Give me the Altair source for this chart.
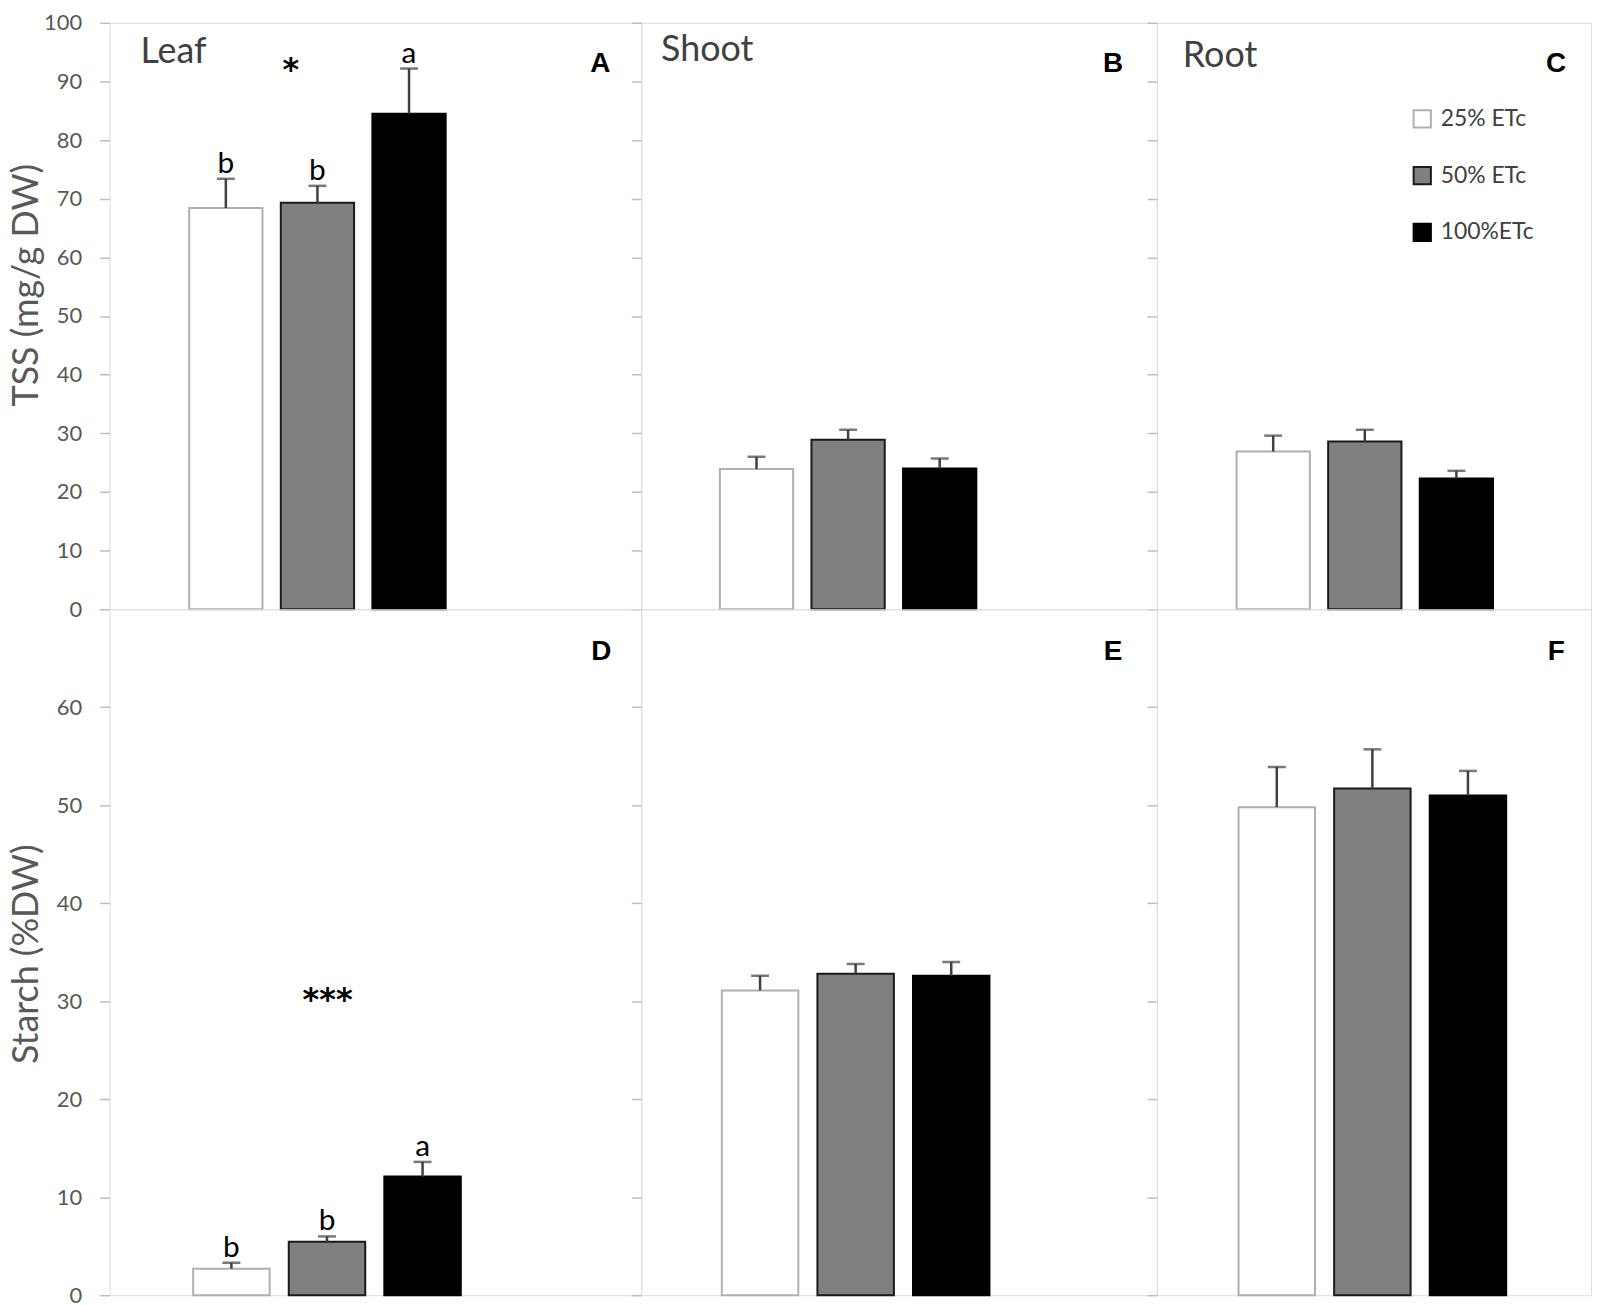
import altair as alt
import pandas as pd

# ---------------- data ----------------
treatments = ["25% ETc", "50% ETc", "100%ETc"]

tss_leaf = [68.4, 69.3, 84.5]
tss_leaf_se = [5.0, 2.9, 7.7]
tss_shoot = [23.9, 28.9, 24.0]
tss_shoot_se = [2.1, 1.7, 1.7]
tss_root = [26.9, 28.6, 22.3]
tss_root_se = [2.7, 2.0, 1.3]

starch_leaf = [2.7, 5.45, 12.1]
starch_leaf_se = [0.6, 0.55, 1.5]
starch_shoot = [31.1, 32.8, 32.6]
starch_shoot_se = [1.5, 1.0, 1.4]
starch_root = [49.8, 51.7, 51.0]
starch_root_se = [4.1, 4.0, 2.5]

tss_leaf_letters = ["b", "b", "a"]
starch_leaf_letters = ["b", "b", "a"]
no_letters = ["", "", ""]

organs = ["Leaf", "Shoot", "Root"]
panel_tags = ["A", "B", "C", "D", "E", "F"]
tss_leaf_anova = "*"
starch_leaf_anova = "***"

tss_ticks = [0, 10, 20, 30, 40, 50, 60, 70, 80, 90, 100]
starch_ticks = [0, 10, 20, 30, 40, 50, 60]
tss_title = "TSS (mg/g DW)"
starch_title = "Starch (%DW)"

# ---------------- styling ----------------
FONT = "Lato"
TAG_FONT = "Liberation Sans"
STAR_FONT = "DejaVu Sans"
GRID = "#bfbfbf"
TXT = "#595959"
ERR = "#404040"
fill_range = ["#ffffff", "#808080", "#000000"]
stroke_range = ["#b0b0b0", "#1a1a1a", "#000000"]

widths = [534, 518, 436]
top_h = 589
bot_h = 689

legend = alt.Legend(
    orient="none", legendX=1307, legendY=85, title=None,
    symbolType="square", symbolSize=300, symbolStrokeWidth=2,
    labelFont=FONT, labelFontSize=23, labelColor="#404040",
    rowPadding=30, labelOffset=7, padding=0,
)
fill_enc = alt.Fill("treatment:N", scale=alt.Scale(domain=treatments, range=fill_range), legend=legend)
stroke_enc = alt.Stroke("treatment:N", scale=alt.Scale(domain=treatments, range=stroke_range), legend=legend)


def text_layer(txt, x, y, size, color, weight="normal", font=FONT, align="left"):
    return alt.Chart(pd.DataFrame({"t": [txt]})).mark_text(
        font=font, fontSize=size, color=color, fontWeight=weight,
        align=align, baseline="alphabetic",
    ).encode(text="t:N", x=alt.value(x), y=alt.value(y))


def panel(means, ses, letters, width, height, step, offset, ydomain, yticks,
          first_col, ytitle, title_y, extras):
    df = pd.DataFrame({"treatment": treatments, "mean": means, "se": ses, "letter": letters})
    df["upper"] = df["mean"] + df["se"]
    pi = 0.2
    span = step * (3 - pi)
    xs = alt.Scale(domain=treatments, paddingInner=pi, paddingOuter=0, range=[offset, offset + span])
    x = alt.X("treatment:N", scale=xs, axis=None, sort=None)
    axis = alt.Axis(
        values=yticks, grid=False, domain=False, ticks=True, tickColor=GRID,
        tickWidth=1.5, tickSize=10, labels=first_col, labelFont=FONT,
        labelFontSize=22, labelColor=TXT, labelPadding=18,
        titleFont=FONT, titleFontSize=36, titleFontWeight="normal",
        titleColor=TXT, titleX=-72, titleY=title_y, titleAngle=270,
        titleBaseline="alphabetic", titleAlign="center",
    )
    ys = alt.Scale(domain=ydomain, nice=False, zero=True)
    title = ytitle if first_col else None
    base = alt.Chart(df)
    bars = base.mark_bar(strokeWidth=2, opacity=1).encode(
        x=x, y=alt.Y("mean:Q", scale=ys, axis=axis, title=title),
        fill=fill_enc, stroke=stroke_enc,
    )
    err = base.mark_rule(color=ERR, strokeWidth=2.5).encode(
        x=x, y=alt.Y("mean:Q", scale=ys, axis=axis, title=title), y2="upper:Q"
    )
    cap = base.mark_tick(color=ERR, thickness=2.5, size=18, orient="horizontal").encode(
        x=x, y=alt.Y("upper:Q", scale=ys, axis=axis, title=title)
    )
    lab = base.mark_text(font=FONT, fontSize=30, color="#000000", baseline="alphabetic", dy=-6).encode(
        x=x, y=alt.Y("upper:Q", scale=ys, axis=axis, title=title), text="letter:N"
    )
    layers = [bars, err, cap, lab] + extras
    return alt.layer(*layers).properties(width=width, height=height)


pA = panel(tss_leaf, tss_leaf_se, tss_leaf_letters, widths[0], top_h, 92, 80, [0, 100], tss_ticks,
           True, tss_title, 263,
           [text_layer(organs[0], 31, 40, 36, "#404040"),
            text_layer(panel_tags[0], 493, 49, 28, "#000000", "bold", TAG_FONT, "center"),
            text_layer(tss_leaf_anova, 182, 57, 32, "#000000", "bold", STAR_FONT, "center")])
pB = panel(tss_shoot, tss_shoot_se, no_letters, widths[1], top_h, 92, 79, [0, 100], tss_ticks,
           False, tss_title, 263,
           [text_layer(organs[1], 20, 38, 36, "#404040"),
            text_layer(panel_tags[1], 474, 49, 28, "#000000", "bold", TAG_FONT, "center")])
pC = panel(tss_root, tss_root_se, no_letters, widths[2], top_h, 92, 80, [0, 100], tss_ticks,
           False, tss_title, 263,
           [text_layer(organs[2], 26, 44, 36, "#404040"),
            text_layer(panel_tags[2], 401, 49, 28, "#000000", "bold", TAG_FONT, "center")])

pD = panel(starch_leaf, starch_leaf_se, starch_leaf_letters, widths[0], bot_h, 96, 84, [0, 70], starch_ticks,
           True, starch_title, 346,
           [text_layer(panel_tags[3], 494, 51, 28, "#000000", "bold", TAG_FONT, "center"),
            text_layer(starch_leaf_anova, 219, 403, 32, "#000000", "bold", STAR_FONT, "center")])
pE = panel(starch_shoot, starch_shoot_se, no_letters, widths[1], bot_h, 96, 81, [0, 70], starch_ticks,
           False, starch_title, 346,
           [text_layer(panel_tags[4], 474, 51, 28, "#000000", "bold", TAG_FONT, "center")])
pF = panel(starch_root, starch_root_se, no_letters, widths[2], bot_h, 96, 82, [0, 70], starch_ticks,
           False, starch_title, 346,
           [text_layer(panel_tags[5], 401, 51, 28, "#000000", "bold", TAG_FONT, "center")])

chart = alt.concat(pA, pB, pC, pD, pE, pF, columns=3, spacing=0, bounds="flush").resolve_scale(
    x="independent", y="independent", fill="shared", stroke="shared"
).properties(
    padding={"left": 0, "top": 0, "right": 0, "bottom": 0}
).configure_view(
    stroke=GRID, strokeWidth=1.5
).configure(font=FONT, background="white")

chart.save("out.html", embed_options={"renderer": "svg", "actions": False})
